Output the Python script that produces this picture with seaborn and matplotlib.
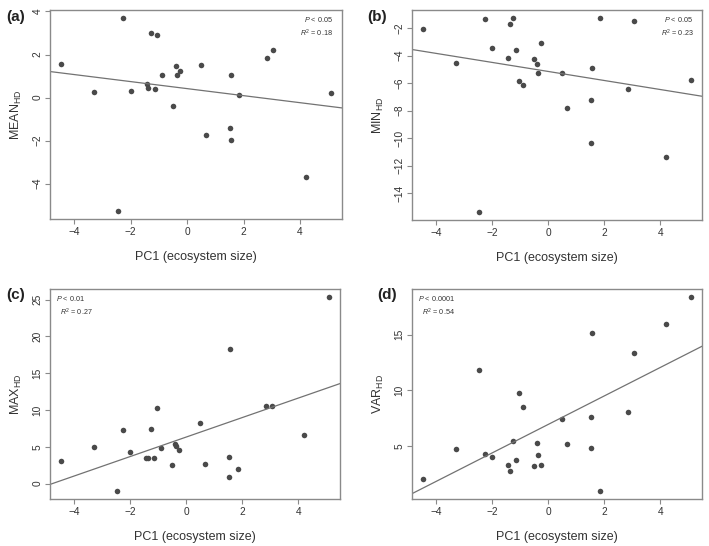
import numpy as np
import pandas as pd
import matplotlib
matplotlib.use("Agg")
import matplotlib.pyplot as plt
import seaborn as sns


# datos
pc1 = [-4.48, -3.31, -2.46, -2.26, -2.00, -1.43, -1.37, -1.27, -1.14, -1.06,
       -0.89, -0.51, -0.40, -0.37, -0.24, 0.50, 0.68, 1.52, 1.54, 1.57,
       1.84, 2.85, 3.06, 4.20, 5.11]

mean_hd = [1.54, 0.28, -5.28, 3.71, 0.32, 0.63, 0.45, 3.00, 0.40, 2.92,
           1.06, -0.38, 1.49, 1.03, 1.22, 1.52, -1.75, -1.40, -1.97, 1.03,
           0.12, 1.83, 2.20, -3.71, 0.22]

min_hd = [-2.07, -4.52, -15.40, -1.37, -3.48, -4.18, -1.73, -1.25, -3.60, -5.88,
          -6.12, -4.23, -4.62, -5.30, -3.12, -5.27, -7.82, -7.26, -10.34, -4.93,
          -1.25, -6.44, -1.49, -11.36, -5.76]

max_hd = [3.05, 4.95, -1.05, 7.32, 4.23, 3.50, 3.41, 7.36, 3.45, 10.32,
          4.86, 2.55, 5.41, 5.05, 4.55, 8.23, 2.64, 3.55, 0.82, 18.23,
          1.95, 10.59, 10.59, 6.55, 25.40]

var_hd = [1.99, 4.67, 11.87, 4.28, 3.98, 3.25, 2.68, 5.39, 3.67, 9.76,
          8.52, 3.16, 5.21, 4.13, 3.28, 7.44, 5.15, 7.56, 4.76, 15.15,
          0.90, 8.04, 13.34, 15.99, 18.43]

panel_letters = ["(a)", "(b)", "(c)", "(d)"]
y_names = ["MEAN", "MIN", "MAX", "VAR"]
p_texts = ["< 0.05", "< 0.05", "< 0.01", "< 0.0001"]
r2_texts = ["0.18", "0.23", "0.27", "0.54"]

x_ticks = [-4, -2, 0, 2, 4]
y_ticks = [
    [-4, -2, 0, 2, 4],
    [-14, -12, -10, -8, -6, -4, -2],
    [0, 5, 10, 15, 20, 25],
    [5, 10, 15],
]

df = pd.DataFrame({
    "PC1": pc1,
    "MEAN": mean_hd,
    "MIN": min_hd,
    "MAX": max_hd,
    "VAR": var_hd,
})


sns.set_style("ticks")
plt.rcParams["font.family"] = ["Liberation Sans", "DejaVu Sans"]
plt.rcParams["mathtext.fontset"] = "custom"
plt.rcParams["mathtext.rm"] = "Liberation Sans"
plt.rcParams["mathtext.it"] = "Liberation Sans:italic"

W, H = 709, 546
fig = plt.figure(figsize=(W / 100, H / 100), dpi=100)

# posiciones de los ejes en pixeles (izq, arriba, der, abajo)
boxes = [
    (50, 10, 342, 219),
    (412, 10, 702, 220),
    (50, 289, 340, 499),
    (412, 289, 702, 499),
]
letter_pos = [(6, 10), (367, 10), (6, 288), (377, 288)]

spine_col = "#8a8a8a"
dot_col = "#4a4a4a"
line_col = "#727272"


def pad(vals):
    lo, hi = min(vals), max(vals)
    r = (hi - lo) * 0.04
    return lo - r, hi + r


for i, name in enumerate(y_names):
    l, t, r, b = boxes[i]
    ax = fig.add_axes([l / W, 1 - b / H, (r - l) / W, (b - t) / H])

    xlim = pad(pc1)
    ylim = pad(df[name])
    ax.set_xlim(xlim)
    ax.set_ylim(ylim)

    sns.regplot(
        data=df,
        x="PC1",
        y=name,
        ax=ax,
        ci=None,
        truncate=False,
        scatter_kws=dict(s=16, color=dot_col, linewidths=0, alpha=1),
        line_kws=dict(color=line_col, lw=0.9),
    )

    ax.set_xlim(xlim)
    ax.set_ylim(ylim)

    ax.set_xticks(x_ticks)
    ax.set_yticks(y_ticks[i])
    ax.set_xticklabels([str(v).replace("-", "\u2212") for v in x_ticks])
    ax.set_yticklabels([str(v).replace("-", "\u2212") for v in y_ticks[i]],
                       rotation=90, va="center")

    for s in ax.spines.values():
        s.set_visible(True)
        s.set_color(spine_col)
        s.set_linewidth(1.0)

    ax.tick_params(direction="out", length=3.5, width=0.8,
                   color=spine_col, labelsize=7.3, labelcolor="#333333",
                   pad=2)

    ax.set_xlabel("PC1 (ecosystem size)", fontsize=9, color="#333333",
                  labelpad=10)
    ax.set_ylabel(name + r"$_{\mathrm{HD}}$", fontsize=9, color="#333333",
                  labelpad=6)

    if i < 2:
        tx, ha = 0.97, "right"
    else:
        tx, ha = 0.02, "left"
    ax.text(tx, 0.955, "$\\it{P}$ " + p_texts[i], transform=ax.transAxes,
            ha=ha, va="center", fontsize=5.2, color="#333333")
    ax.text(tx if i < 2 else 0.035, 0.89, "$\\it{R}^{2}$ = " + r2_texts[i],
            transform=ax.transAxes, ha=ha, va="center", fontsize=5.2,
            color="#333333")

    lx, ly = letter_pos[i]
    fig.text(lx / W, 1 - ly / H, panel_letters[i], fontsize=11,
             fontweight="bold", ha="left", va="top", color="#222222")

fig.savefig("out.png", dpi=100)
plt.close(fig)
